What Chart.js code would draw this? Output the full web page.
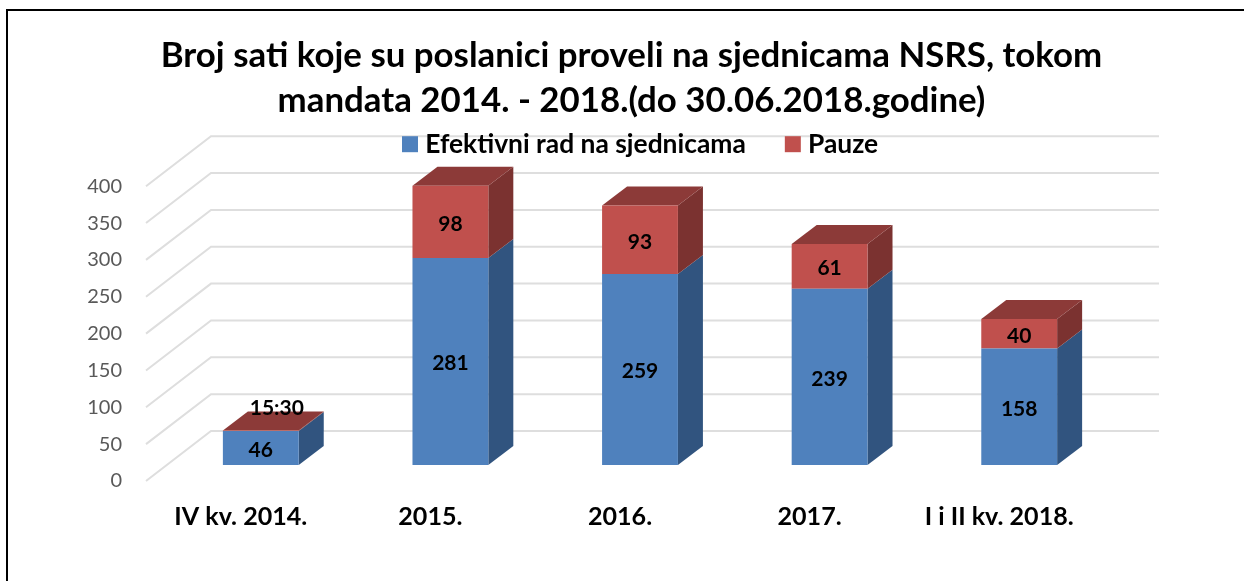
<!DOCTYPE html>
<html><head><meta charset="utf-8">
<style>html,body{margin:0;padding:0;background:#fff}#w{position:relative;width:1244px;height:581px}
canvas{display:block}</style>
<script src="https://cdn.jsdelivr.net/npm/chart.js@4/dist/chart.umd.min.js"></script>
</head><body><div id="w"><canvas id="c" width="1244" height="581"></canvas></div>
<script>
const categories = ["IV kv. 2014.","2015.","2016.","2017.","I i II kv. 2018."];
const efektivni = [46,281,259,239,158];
const pauze = [0.65,98,93,61,40];
const efektivniLabels = ["46","281","259","239","158"];
const pauzeLabels = ["15:30","98","93","61","40"];
const yTickValues = [0,50,100,150,200,250,300,350,400];
const titleLines = ["Broj sati koje su poslanici proveli na sjednicama NSRS, tokom","mandata 2014. - 2018.(do 30.06.2018.godine)"];

const FONT = "Lato";
const PX = 0.737, BOTTOM = 481, TOP = 124;
const BAR_DX = 25, BAR_DY = -19, WALL_DX = 65, WALL_DY = -50, WALL_RIGHT = 1159;

function poly(ctx, pts, fill){
  ctx.beginPath(); pts.forEach((p,i)=> i?ctx.lineTo(p[0],p[1]):ctx.moveTo(p[0],p[1])); ctx.closePath();
  ctx.fillStyle = fill; ctx.fill();
}
const scene = {
  id:"scene",
  afterLayout(chart){
    const l = chart.legend;
    l.left = 363; l.right = 1100; l.top = 86; l.bottom = 206; l.width = l.right-l.left; l.height = 120;
    const t = chart.titleBlock; t.left = 19; t.right = 1244; t.width = 1225;
  },
  beforeDraw(chart){
    const {ctx} = chart, s = chart.scales.yTicks, x0 = chart.chartArea.left - 20;
    ctx.save();
    ctx.strokeStyle = "#DEDEDE"; ctx.lineWidth = 2; ctx.lineJoin = "miter";
    yTickValues.forEach(v=>{
      const y = s.getPixelForValue(v);
      ctx.beginPath(); ctx.moveTo(x0,y); ctx.lineTo(x0+WALL_DX,y+WALL_DY); ctx.lineTo(WALL_RIGHT,y+WALL_DY); ctx.stroke();
    });
    ctx.fillStyle = "#000"; ctx.fillRect(6,9,1238,2); ctx.fillRect(6,9,2,572);
    ctx.restore();
  },
  beforeDatasetsDraw(chart){
    const {ctx} = chart;
    const sideCol = ["#31547F","#7B3230"];
    ctx.save();
    [0,1].forEach(di=>{
      chart.getDatasetMeta(di).data.forEach(b=>{
        const r = b.x+b.width/2;
        poly(ctx,[[r,b.y],[r+BAR_DX,b.y+BAR_DY],[r+BAR_DX,b.base+BAR_DY],[r,b.base]],sideCol[di]);
      });
    });
    chart.getDatasetMeta(1).data.forEach(b=>{
      const l = b.x-b.width/2, r = b.x+b.width/2;
      poly(ctx,[[l,b.y],[l+BAR_DX,b.y+BAR_DY],[r+BAR_DX,b.y+BAR_DY],[r,b.y]],"#8C3A38");
    });
    ctx.restore();
  },
  afterDatasetsDraw(chart){
    const {ctx} = chart, texts = [efektivniLabels,pauzeLabels];
    ctx.save();
    ctx.font = "bold 21px "+FONT; ctx.fillStyle = "#000"; ctx.textAlign = "center"; ctx.textBaseline = "middle";
    [0,1].forEach(di=>{
      chart.getDatasetMeta(di).data.forEach((b,i)=>{
        let x = b.x, y = (b.y+b.base)/2+2;
        if (Math.abs(b.base-b.y) < 4){ x += 16; y -= 25; }
        ctx.fillText(texts[di][i],x,y);
      });
    });
    ctx.restore();
  }
};

new Chart(document.getElementById("c"),{
  type:"bar",
  data:{labels:categories,datasets:[
    {label:"Efektivni rad na sjednicama",data:efektivni,backgroundColor:"#4F81BD",stack:"s",yAxisID:"y"},
    {label:"Pauze",data:pauze,backgroundColor:"#C0504D",stack:"s",yAxisID:"y"}
  ]},
  plugins:[scene],
  options:{
    responsive:false,animation:false,
    events:[],
    layout:{padding:{left:0,right:130,top:0,bottom:0}},
    datasets:{bar:{barPercentage:0.4,categoryPercentage:1}},
    plugins:{
      tooltip:{enabled:false},
      title:{display:true,text:titleLines,color:"#000",padding:{top:33,bottom:0},
        font:{family:FONT,weight:"bold",size:34.85,lineHeight:45/34.85}},
      legend:{display:true,position:"top",align:"start",maxHeight:1,
        labels:{color:"#000",font:{family:FONT,weight:"bold",size:26.4},boxWidth:4,boxHeight:4,padding:45,
          generateLabels(chart){
            return Chart.defaults.plugins.legend.labels.generateLabels(chart).map(it=>Object.assign(it,{lineWidth:12,strokeStyle:it.fillStyle}));
          }}}
    },
    scales:{
      x:{stacked:true,grid:{display:false},border:{display:false},
        afterFit(s){s.height=581-BOTTOM;},
        ticks:{color:"#000",font:{family:FONT,weight:"bold",size:25.1},labelOffset:-20,padding:13,maxRotation:0,autoSkip:false}},
      y:{display:false,stacked:true,min:(BOTTOM-465)/-PX,max:(BOTTOM-TOP)/PX+(BOTTOM-465)/-PX},
      yTicks:{position:"left",min:0,max:(BOTTOM-TOP)/PX,grid:{display:false},border:{display:false},
        afterFit(s){s.width=166;},
        afterBuildTicks(s){s.ticks=yTickValues.map(v=>({value:v}));},
        ticks:{color:"#595959",font:{family:FONT,size:20},padding:36}}
    }
  }
});
</script></body></html>
